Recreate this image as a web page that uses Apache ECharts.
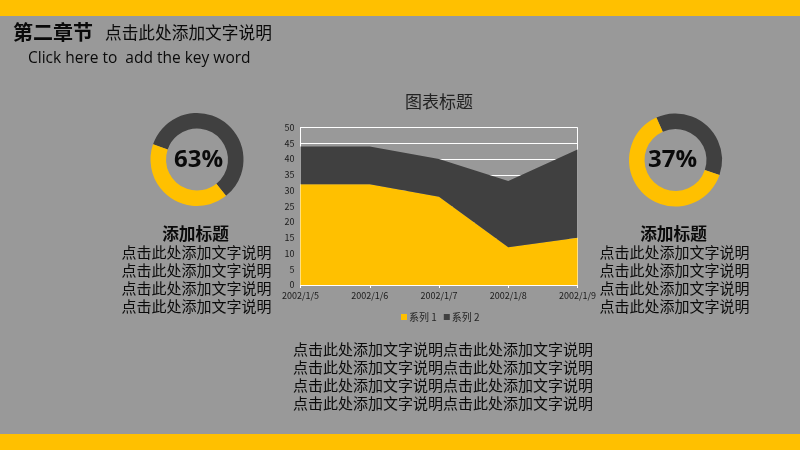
<!DOCTYPE html>
<html><head><meta charset="utf-8">
<style>html,body{margin:0;padding:0;background:#999}#c{width:800px;height:450px}</style>
<script src="https://cdn.jsdelivr.net/npm/echarts@6/dist/echarts.min.js"></script>
</head><body><div id="c"></div>
<script>
const categories = ['2002/1/5','2002/1/6','2002/1/7','2002/1/8','2002/1/9'];
const series1 = [32,32,28,12,15];
const series2 = [12,12,12,21,28];
const yTicks = {min:0,max:50,interval:5};
const leftDonut = [59,41];
const rightDonut = [37,63];
const chartTitle = '图表标题';
const heading = '第二章节';
const subtitle = '点击此处添加文字说明';
const keyword = 'Click here to  add the key word';
const blockTitle = '添加标题';
const blockLine = '点击此处添加文字说明';
const bottomLine = '点击此处添加文字说明点击此处添加文字说明';
const lineYs = [252.5,270.5,288.5,306.5];
const bottomYs = [349.5,367.5,385.5,403.5];

const FONT = '"Noto Sans CJK SC","Noto Sans",sans-serif';
const YEL = '#FFC000', DARK = '#404040', BG = '#999999', INK = '#0a0a0a';
function txt(x,y,text,size,opt){
  return {type:'text',x:x,y:y,z:20,silent:true,style:Object.assign({text:text,font:(opt&&opt.bold?'bold ':'')+size+'px '+FONT,fill:INK,align:'center',verticalAlign:'middle'},opt&&opt.style||{})};
}
const graphics = [
  {type:'rect',shape:{x:0,y:0,width:800,height:16},style:{fill:YEL},silent:true},
  {type:'rect',shape:{x:0,y:434,width:800,height:16},style:{fill:YEL},silent:true},
  txt(13,32,heading,20,{bold:true,style:{align:'left'}}),
  txt(105,33,subtitle,16.7,{style:{align:'left'}}),
  {type:'text',x:28,y:59,z:20,silent:true,style:{text:keyword,font:'15.5px "Open Sans",sans-serif',fill:INK,align:'left',verticalAlign:'middle'}},
  txt(439,102,chartTitle,17,{style:{fill:'#222'}}),
  txt(195.5,234,blockTitle,16.7,{bold:true}),
  txt(673.5,234,blockTitle,16.7,{bold:true}),
  txt(198.5,160,'63%',24,{bold:true,style:{font:'bold 24px "Open Sans",sans-serif'}}),
  txt(672.5,160,'37%',24,{bold:true,style:{font:'bold 24px "Open Sans",sans-serif'}})
];
lineYs.forEach(y=>{graphics.push(txt(196.5,y,blockLine,15));graphics.push(txt(674.5,y,blockLine,15));});
bottomYs.forEach(y=>graphics.push(txt(443,y,bottomLine,15)));

function donut(center,data,start){
  return {type:'pie',center:center,radius:[31,46.5],startAngle:start,clockwise:true,silent:true,z:5,
    label:{show:false},labelLine:{show:false},
    data:[{name:'dark',value:data[0],itemStyle:{color:DARK}},{name:'yellow',value:data[1],itemStyle:{color:YEL}}]};
}
const chart = echarts.init(document.getElementById('c'),null,{renderer:'canvas'});
chart.setOption({
  animation:false,
  backgroundColor:BG,
  textStyle:{fontFamily:FONT},
  graphic:graphics,
  grid:{left:300.5,top:127.5,width:277,height:157.5,show:true,borderColor:'#fff',borderWidth:1,backgroundColor:'transparent'},
  legend:{data:['系列 1','系列 2'],top:307,left:396,itemWidth:6,itemHeight:6,itemGap:7,icon:'rect',
    textStyle:{fontSize:10,color:'#262626',padding:[0,0,0,-3]}},
  xAxis:{type:'category',boundaryGap:false,data:categories,
    axisLine:{lineStyle:{color:'#fff',width:1}},
    axisTick:{show:true,length:3,lineStyle:{color:'#fff'}},
    axisLabel:{fontSize:9,color:'#1a1a1a',margin:6,hideOverlap:false,interval:0,showMinLabel:true,showMaxLabel:true},
    splitLine:{show:false}},
  yAxis:{type:'value',min:yTicks.min,max:yTicks.max,interval:yTicks.interval,
    axisLine:{show:true,lineStyle:{color:'#fff',width:1}},
    axisTick:{show:false},
    axisLabel:{fontSize:9,color:'#1a1a1a',margin:6},
    splitLine:{show:true,lineStyle:{color:'#fff',width:1}}},
  series:[
    {name:'系列 1',type:'line',stack:'a',data:series1,symbol:'none',showSymbol:false,lineStyle:{width:0},areaStyle:{color:YEL,opacity:1},itemStyle:{color:YEL},z:2},
    {name:'系列 2',type:'line',stack:'a',data:series2,symbol:'none',showSymbol:false,lineStyle:{width:0},areaStyle:{color:DARK,opacity:1},itemStyle:{color:DARK},z:2},
    donut([197,159.5],leftDonut,161),
    donut([675.5,160],rightDonut,114.3)
  ]
});
</script></body></html>
